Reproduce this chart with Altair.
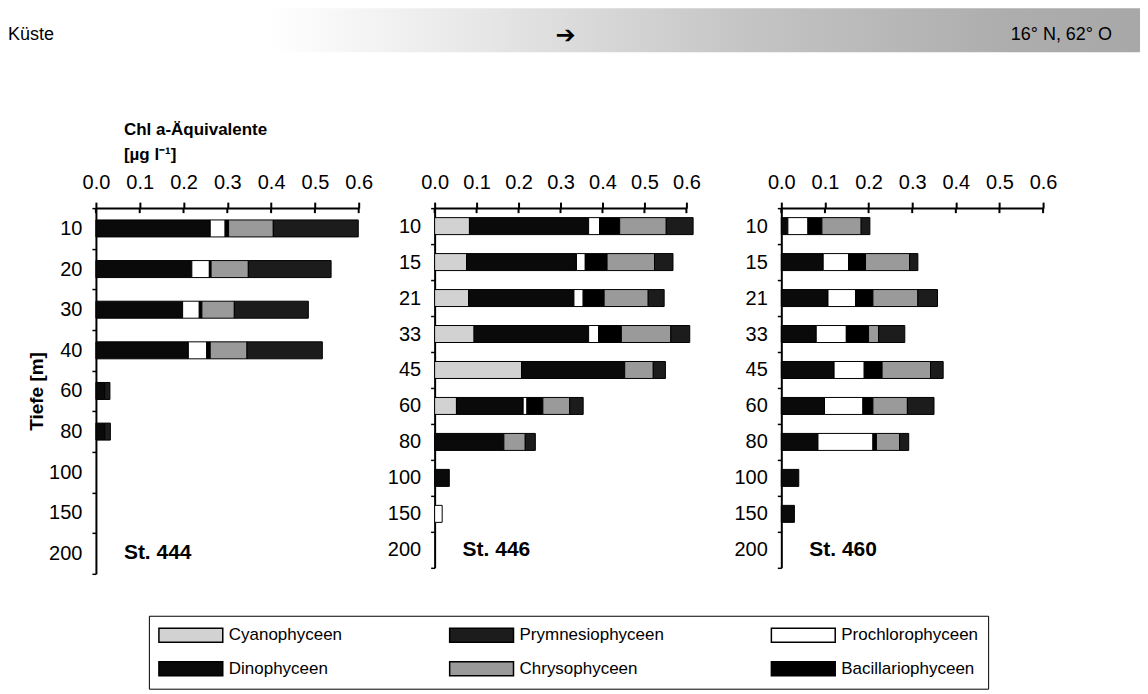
import altair as alt
import pandas as pd

# ---------------- data ----------------
# stacking order (left to right inside each bar)
groups_stack = ["Cyanophyceen", "Dinophyceen", "Prochlorophyceen",
                "Bacillariophyceen", "Chrysophyceen", "Prymnesiophyceen"]
# legend order (filled column by column, 3 columns x 2 rows)
legend_order = ["Cyanophyceen", "Dinophyceen", "Prymnesiophyceen",
                "Chrysophyceen", "Prochlorophyceen", "Bacillariophyceen"]
legend_colors = ["#d2d2d2", "#0a0a0a", "#1c1c1c", "#9a9a9a", "#ffffff", "#000000"]

x_ticks = [0.0, 0.1, 0.2, 0.3, 0.4, 0.5, 0.6]

# St. 444
st444_depths = ["10", "20", "30", "40", "60", "80", "100", "150", "200"]
st444_cyano = [0, 0, 0, 0, 0, 0, 0, 0, 0]
st444_dino = [0.261, 0.219, 0.198, 0.211, 0.020, 0.020, 0, 0, 0]
st444_prochloro = [0.034, 0.040, 0.038, 0.042, 0, 0, 0, 0, 0]
st444_bacillario = [0.008, 0.004, 0.006, 0.008, 0, 0, 0, 0, 0]
st444_chryso = [0.102, 0.085, 0.074, 0.084, 0, 0, 0, 0, 0]
st444_prymnesio = [0.194, 0.189, 0.169, 0.172, 0.012, 0.013, 0, 0, 0]

# St. 446
st446_depths = ["10", "15", "21", "33", "45", "60", "80", "100", "150", "200"]
st446_cyano = [0.083, 0.076, 0.081, 0.094, 0.207, 0.052, 0, 0, 0, 0]
st446_dino = [0.284, 0.262, 0.251, 0.273, 0.246, 0.159, 0.165, 0.035, 0, 0]
st446_prochloro = [0.026, 0.021, 0.022, 0.024, 0, 0.009, 0, 0, 0.018, 0]
st446_bacillario = [0.048, 0.052, 0.050, 0.054, 0, 0.038, 0, 0, 0, 0]
st446_chryso = [0.111, 0.113, 0.105, 0.118, 0.068, 0.064, 0.051, 0, 0, 0]
st446_prymnesio = [0.064, 0.044, 0.038, 0.045, 0.029, 0.032, 0.024, 0, 0, 0]

# St. 460
st460_depths = ["10", "15", "21", "33", "45", "60", "80", "100", "150", "200"]
st460_cyano = [0, 0, 0, 0, 0, 0, 0, 0, 0, 0]
st460_dino = [0.015, 0.096, 0.107, 0.080, 0.121, 0.099, 0.084, 0.040, 0.030, 0]
st460_prochloro = [0.046, 0.058, 0.063, 0.069, 0.069, 0.088, 0.126, 0, 0, 0]
st460_bacillario = [0.032, 0.039, 0.040, 0.051, 0.041, 0.023, 0.008, 0, 0, 0]
st460_chryso = [0.090, 0.101, 0.103, 0.023, 0.111, 0.079, 0.053, 0, 0, 0]
st460_prymnesio = [0.020, 0.019, 0.045, 0.060, 0.029, 0.061, 0.021, 0, 0, 0]

FONT = "Liberation Sans"


def make_df(depths, series):
    rows = []
    for i, (g, vals) in enumerate(zip(groups_stack, series)):
        for d, v in zip(depths, vals):
            if v > 0:
                rows.append({"depth": d, "group": g, "value": v, "order": i})
    return pd.DataFrame(rows)


color_enc = alt.Color(
    "group:N",
    scale=alt.Scale(domain=legend_order, range=legend_colors),
    legend=alt.Legend(
        title=None, orient="none", legendX=53, legendY=408, columns=3,
        symbolType="M-3.55,-0.78H3.55V0.78H-3.55Z", symbolSize=324,
        symbolOffset=23, labelOffset=28, labelFontSize=17, labelFont=FONT,
        labelColor="black", labelLimit=300,
        columnPadding=104, rowPadding=12, padding=9,
        strokeColor="black", symbolStrokeColor="black", symbolStrokeWidth=1.5,
        symbolOpacity=1,
    ),
)


def panel(depths, series, label, width, xrange, ytitle, height):
    df = make_df(depths, series)
    xscale = alt.Scale(domain=[0, 0.6], nice=False, range=xrange) if xrange else alt.Scale(domain=[0, 0.6], nice=False)
    yaxis = alt.Axis(
        title=ytitle if ytitle else None, labelFontSize=20, labelFont=FONT,
        labelPadding=10, tickBand="extent", tickSize=4, tickWidth=1.5,
        domainWidth=2, titleFontSize=19, titleFontWeight="bold", titleFont=FONT,
        titlePadding=2, labelColor="black", titleColor="black",
    )
    yscale = alt.Scale(domain=depths, paddingInner=0, paddingOuter=0)
    bars = alt.Chart(df).mark_bar(size=17, stroke="black", strokeWidth=1).encode(
        x=alt.X("value:Q", stack="zero", scale=xscale,
                axis=alt.Axis(orient="top", values=x_ticks, format=".1f", title=None,
                              labelFontSize=20, labelFont=FONT, labelPadding=10,
                              tickSize=6, tickWidth=2, domainWidth=2,
                              labelColor="black", labelFlush=False)),
        y=alt.Y("depth:N", sort=depths, scale=yscale, axis=yaxis,
                title=ytitle if ytitle else None),
        color=color_enc,
        order=alt.Order("order:Q"),
    )
    # lower half of the cross-shaped ticks on the top axis
    ticks = alt.Chart(pd.DataFrame({"v": x_ticks})).mark_rule(
        color="black", strokeWidth=2
    ).encode(x=alt.X("v:Q", scale=xscale, title=None), y=alt.value(0), y2=alt.value(5))
    lab = alt.Chart(pd.DataFrame({"depth": [depths[-1]], "label": [label]})).mark_text(
        align="left", baseline="middle", fontSize=21, fontWeight="bold", font=FONT,
        color="black",
    ).encode(
        y=alt.Y("depth:N", sort=depths, title=ytitle if ytitle else None),
        x=alt.value(28), text="label:N",
    )
    return alt.layer(bars, ticks, lab).properties(width=width, height=height)


p1 = panel(st444_depths,
           [st444_cyano, st444_dino, st444_prochloro, st444_bacillario, st444_chryso, st444_prymnesio],
           "St. 444", 263, None, "Tiefe [m]", 366)
p2 = panel(st446_depths,
           [st446_cyano, st446_dino, st446_prochloro, st446_bacillario, st446_chryso, st446_prymnesio],
           "St. 446", 271, [0, 252], None, 360)
p3 = panel(st460_depths,
           [st460_cyano, st460_dino, st460_prochloro, st460_bacillario, st460_chryso, st460_prymnesio],
           "St. 460", 262, None, None, 360)

# header + unit title drawn as annotations in panel 1's layer
one = pd.DataFrame({"k": [0]})
banner = alt.Chart(one).mark_rect(
    fill=alt.Gradient(
        gradient="linear", x1=0, x2=1, y1=0, y2=0,
        stops=[alt.GradientStop(offset=0, color="#ffffff"),
               alt.GradientStop(offset=0.25, color="#e6e6e6"),
               alt.GradientStop(offset=0.55, color="#c4c4c4"),
               alt.GradientStop(offset=0.85, color="#adadad"),
               alt.GradientStop(offset=1, color="#a8a8a8")]),
).encode(x=alt.value(175), x2=alt.value(1045), y=alt.value(-200), y2=alt.value(-156))


def note(txt, x, y, size, weight="normal", align="left", font=FONT):
    return alt.Chart(pd.DataFrame({"t": [txt]})).mark_text(
        align=align, baseline="middle", fontSize=size, fontWeight=weight,
        font=font, color="black",
    ).encode(x=alt.value(x), y=alt.value(y), text="t:N")


header = alt.layer(
    banner,
    note("Küste", -88, -173, 18),
    note("➔", 460, -172, 24, font="DejaVu Sans"),
    note("16° N, 62° O", 1017, -173, 18, align="right"),
    note("Chl a-Äquivalente", 28, -78, 17, "bold"),
    note("[µg l⁻¹]", 28, -53, 17, "bold"),
)

p1_full = alt.layer(p1, header)

chart = alt.hconcat(p1_full, p2, p3, spacing=76, bounds="flush").properties(
    padding=0
).configure_view(stroke=None).configure_axis(
    domainColor="black", tickColor="black", grid=False
)

chart.save("out.html", embed_options={"renderer": "svg", "actions": False})
